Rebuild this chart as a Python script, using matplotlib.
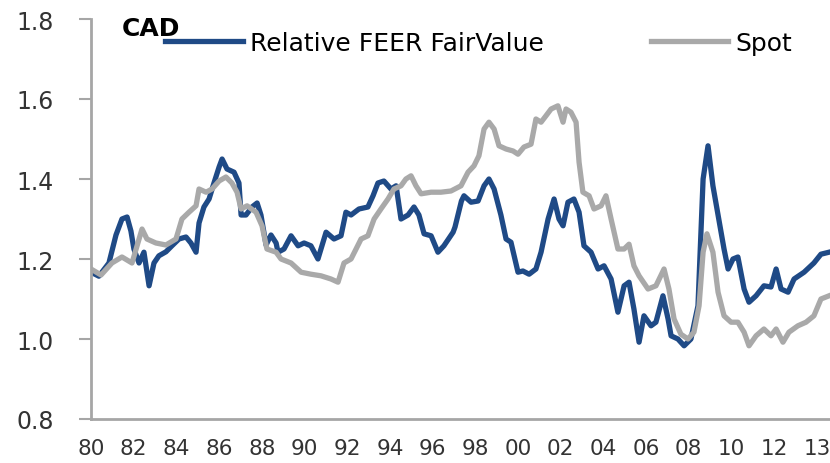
import matplotlib
matplotlib.use("Agg")
import matplotlib.pyplot as plt

# --- data (decimal year, value) ---
feer_years = [
    1980.00, 1980.37, 1980.84, 1981.17, 1981.45, 1981.69, 1981.87, 1982.01,
    1982.25, 1982.48, 1982.72, 1982.95, 1983.18, 1983.51, 1983.79, 1984.12,
    1984.45, 1984.68, 1984.92, 1985.06, 1985.29, 1985.53, 1985.76, 1986.00,
    1986.14, 1986.37, 1986.70, 1986.93, 1987.03, 1987.26, 1987.54, 1987.78,
    1987.96, 1988.20, 1988.43, 1988.67, 1988.76, 1989.04, 1989.37, 1989.70,
    1989.98, 1990.30, 1990.63, 1991.01, 1991.38, 1991.71, 1991.94, 1992.18,
    1992.55, 1992.97, 1993.21, 1993.44, 1993.72, 1994.05, 1994.29, 1994.52,
    1994.85, 1995.13, 1995.36, 1995.60, 1995.93, 1996.25, 1996.53, 1996.96,
    1997.05, 1997.35, 1997.47, 1997.80, 1998.13, 1998.41, 1998.64, 1998.88,
    1999.20, 1999.44, 1999.67, 2000.00, 2000.23, 2000.52, 2000.84, 2001.08,
    2001.41, 2001.69, 2001.92, 2002.11, 2002.34, 2002.62, 2002.86, 2003.09,
    2003.42, 2003.75, 2004.03, 2004.36, 2004.68, 2004.97, 2005.20, 2005.43,
    2005.67, 2005.90, 2006.23, 2006.46, 2006.79, 2007.03, 2007.17, 2007.49,
    2007.78, 2008.10, 2008.43, 2008.67, 2008.90, 2009.13, 2009.37, 2009.65,
    2009.84, 2010.07, 2010.30, 2010.59, 2010.82, 2011.15, 2011.52, 2011.85,
    2012.09, 2012.32, 2012.65, 2012.93, 2013.40, 2013.86, 2014.19, 2014.57,
]
feer_values = [
    1.167, 1.157, 1.190, 1.260, 1.300, 1.305, 1.270, 1.225,
    1.190, 1.217, 1.133, 1.190, 1.208, 1.218, 1.233, 1.250,
    1.255, 1.240, 1.217, 1.290, 1.330, 1.350, 1.390, 1.430,
    1.450, 1.425, 1.417, 1.390, 1.310, 1.310, 1.330, 1.340,
    1.310, 1.235, 1.260, 1.240, 1.217, 1.225, 1.258, 1.233,
    1.240, 1.233, 1.200, 1.267, 1.250, 1.258, 1.317, 1.310,
    1.325, 1.330, 1.358, 1.390, 1.395, 1.375, 1.383, 1.300,
    1.310, 1.330, 1.310, 1.263, 1.258, 1.217, 1.233, 1.267,
    1.280, 1.345, 1.358, 1.342, 1.345, 1.383, 1.400, 1.375,
    1.310, 1.250, 1.242, 1.167, 1.170, 1.162, 1.175, 1.217,
    1.300, 1.350, 1.300, 1.283, 1.342, 1.350, 1.317, 1.233,
    1.217, 1.175, 1.183, 1.150, 1.067, 1.133, 1.142, 1.075,
    0.992, 1.058, 1.033, 1.042, 1.108, 1.050, 1.008, 1.000,
    0.983, 1.000, 1.083, 1.400, 1.483, 1.383, 1.310, 1.225,
    1.175, 1.200, 1.205, 1.125, 1.092, 1.108, 1.133, 1.130,
    1.175, 1.125, 1.117, 1.150, 1.167, 1.190, 1.212, 1.217,
]

spot_years = [
    1980.00, 1980.47, 1980.98, 1981.45, 1981.92, 1982.39, 1982.62, 1983.04,
    1983.51, 1983.98, 1984.26, 1984.59, 1984.92, 1985.06, 1985.39, 1985.67,
    1986.00, 1986.32, 1986.60, 1986.84, 1987.03, 1987.31, 1987.73, 1988.01,
    1988.24, 1988.67, 1988.90, 1989.37, 1989.84, 1990.30, 1990.77, 1991.24,
    1991.57, 1991.85, 1992.18, 1992.65, 1992.97, 1993.26, 1993.58, 1993.91,
    1994.19, 1994.52, 1994.75, 1994.99, 1995.22, 1995.46, 1995.93, 1996.39,
    1996.86, 1997.33, 1997.66, 1997.94, 1998.17, 1998.41, 1998.64, 1998.88,
    1999.11, 1999.44, 1999.77, 2000.00, 2000.28, 2000.61, 2000.84, 2001.08,
    2001.31, 2001.55, 2001.87, 2002.11, 2002.25, 2002.48, 2002.72, 2002.86,
    2003.04, 2003.33, 2003.56, 2003.89, 2004.12, 2004.36, 2004.68, 2004.97,
    2005.20, 2005.43, 2005.67, 2006.09, 2006.46, 2006.84, 2007.07, 2007.31,
    2007.63, 2007.96, 2008.24, 2008.48, 2008.67, 2008.85, 2009.13, 2009.37,
    2009.65, 2009.98, 2010.30, 2010.59, 2010.82, 2011.15, 2011.52, 2011.85,
    2012.09, 2012.41, 2012.69, 2013.11, 2013.49, 2013.86, 2014.19, 2014.57,
]
spot_values = [
    1.175, 1.160, 1.190, 1.205, 1.190, 1.275, 1.250, 1.240,
    1.235, 1.250, 1.300, 1.317, 1.333, 1.375, 1.367, 1.375,
    1.395, 1.405, 1.390, 1.367, 1.325, 1.333, 1.317, 1.283,
    1.225, 1.217, 1.200, 1.190, 1.167, 1.162, 1.158, 1.150,
    1.142, 1.190, 1.200, 1.250, 1.258, 1.300, 1.325, 1.350,
    1.375, 1.383, 1.400, 1.408, 1.383, 1.363, 1.367, 1.367,
    1.370, 1.383, 1.417, 1.433, 1.458, 1.525, 1.542, 1.525,
    1.483, 1.475, 1.470, 1.462, 1.480, 1.487, 1.550, 1.542,
    1.558, 1.575, 1.583, 1.542, 1.575, 1.567, 1.542, 1.442,
    1.367, 1.358, 1.325, 1.333, 1.358, 1.300, 1.225, 1.225,
    1.237, 1.183, 1.158, 1.125, 1.133, 1.175, 1.125, 1.050,
    1.012, 1.000, 1.017, 1.083, 1.217, 1.263, 1.217, 1.117,
    1.058, 1.042, 1.042, 1.017, 0.983, 1.008, 1.025, 1.008,
    1.025, 0.992, 1.017, 1.033, 1.042, 1.058, 1.100, 1.108,
]

xtick_pos = list(range(1980, 2015, 2))
xtick_labels = ["80", "82", "84", "86", "88", "90", "92", "94", "96", "98",
                "00", "02", "04", "06", "08", "10", "12", "13"]
yticks = [0.8, 1.0, 1.2, 1.4, 1.6, 1.8]

BLUE = "#1F4A86"
GREY = "#A9A9A9"
AXIS = "#A6A6A6"
TXT = "#333333"

fig = plt.figure(figsize=(8.3, 4.64), dpi=100)
ax = fig.add_axes([91 / 830, 44 / 464, 739 / 830, 400 / 464])

ax.plot(feer_years, feer_values, color=BLUE, lw=3.8,
        solid_joinstyle="round", label="Relative FEER FairValue")
ax.plot(spot_years, spot_values, color=GREY, lw=3.8,
        solid_joinstyle="round", label="Spot")

ax.set_xlim(1980, 1980 + 739 / 21.35)
ax.set_ylim(0.8, 1.8)

ax.set_xticks(xtick_pos)
ax.set_xticklabels(xtick_labels)
ax.set_yticks(yticks)
ax.set_yticklabels([f"{v:.1f}" for v in yticks])

for s in ("top", "right"):
    ax.spines[s].set_visible(False)
for s in ("left", "bottom"):
    ax.spines[s].set_color(AXIS)
    ax.spines[s].set_linewidth(2.0)

ax.tick_params(axis="x", length=0, pad=14, labelsize=15.5, labelcolor=TXT)
ax.tick_params(axis="y", length=9, width=1.5, color=AXIS, pad=18,
               labelsize=17, labelcolor=TXT)

# series tag in the top-left corner
fig.text(122 / 830, 1 - 29 / 464, "CAD", ha="left", va="center",
         fontsize=18, fontweight="bold", color="black")

ax.legend(loc="center left", bbox_to_anchor=(165 / 830, 1 - 44 / 464),
          bbox_transform=fig.transFigure, ncol=2, frameon=False,
          fontsize=18, handlelength=3.1, handletextpad=0.28,
          columnspacing=4.3, borderpad=0, borderaxespad=0)

fig.savefig("out.png", dpi=100)
